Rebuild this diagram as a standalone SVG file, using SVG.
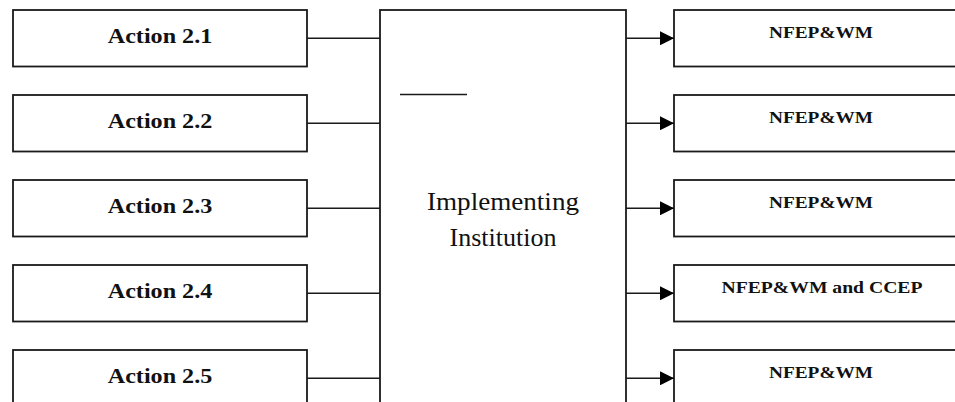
<svg xmlns="http://www.w3.org/2000/svg" width="955" height="402" viewBox="0 0 955 402">
<defs>
<style>
.box{fill:#fff;stroke:#1a1a1a;stroke-width:1.8}
.ln{fill:none;stroke:#1a1a1a;stroke-width:1.6}
.act{font-family:"Liberation Serif","Times New Roman",serif;font-weight:bold;font-size:22px;fill:#111;text-anchor:middle}
.out{font-family:"Liberation Serif","Times New Roman",serif;font-weight:bold;font-size:17.5px;fill:#111;text-anchor:middle}
.ctr{font-family:"Liberation Serif","Times New Roman",serif;font-size:25px;fill:#111;text-anchor:middle}
</style>
<marker id="arr" viewBox="0 0 14 14" refX="14" refY="7" markerWidth="14" markerHeight="14" markerUnits="userSpaceOnUse" orient="auto">
<path d="M0,0 L14,7 L0,14 Z" fill="#000"/>
</marker>
</defs>
<rect width="955" height="402" fill="#fff"/>

<g id="center">
<rect class="box" x="380" y="10" width="246" height="410"/>
<line class="ln" x1="400" y1="94.5" x2="467" y2="94.5"/>
<text class="ctr" x="503" y="210" textLength="152" lengthAdjust="spacingAndGlyphs">Implementing</text>
<text class="ctr" x="503" y="245.5" textLength="107" lengthAdjust="spacingAndGlyphs">Institution</text>
</g>

<g id="action21"><rect class="box" x="13" y="10" width="294" height="56.5"/><text class="act" x="160" y="42.7" textLength="104.5" lengthAdjust="spacingAndGlyphs">Action 2.1</text></g>
<g id="action22"><rect class="box" x="13" y="95" width="294" height="56.5"/><text class="act" x="160" y="127.7" textLength="104.5" lengthAdjust="spacingAndGlyphs">Action 2.2</text></g>
<g id="action23"><rect class="box" x="13" y="180" width="294" height="56.5"/><text class="act" x="160" y="212.7" textLength="104.5" lengthAdjust="spacingAndGlyphs">Action 2.3</text></g>
<g id="action24"><rect class="box" x="13" y="265" width="294" height="56.5"/><text class="act" x="160" y="297.7" textLength="104.5" lengthAdjust="spacingAndGlyphs">Action 2.4</text></g>
<g id="action25"><rect class="box" x="13" y="350" width="294" height="56.5"/><text class="act" x="160" y="382.7" textLength="104.5" lengthAdjust="spacingAndGlyphs">Action 2.5</text></g>

<g id="out1"><rect class="box" x="674" y="10" width="300" height="56.5"/><text class="out" x="821" y="37.7" textLength="104" lengthAdjust="spacingAndGlyphs">NFEP&amp;WM</text></g>
<g id="out2"><rect class="box" x="674" y="95" width="300" height="56.5"/><text class="out" x="821" y="122.7" textLength="104" lengthAdjust="spacingAndGlyphs">NFEP&amp;WM</text></g>
<g id="out3"><rect class="box" x="674" y="180" width="300" height="56.5"/><text class="out" x="821" y="207.7" textLength="104" lengthAdjust="spacingAndGlyphs">NFEP&amp;WM</text></g>
<g id="out4"><rect class="box" x="674" y="265" width="300" height="56.5"/><text class="out" x="822" y="292.7" textLength="201" lengthAdjust="spacingAndGlyphs">NFEP&amp;WM and CCEP</text></g>
<g id="out5"><rect class="box" x="674" y="350" width="300" height="56.5"/><text class="out" x="821" y="377.7" textLength="104" lengthAdjust="spacingAndGlyphs">NFEP&amp;WM</text></g>

<g id="connectors">
<line class="ln" x1="307" y1="38.3" x2="380" y2="38.3"/>
<line class="ln" x1="307" y1="123.3" x2="380" y2="123.3"/>
<line class="ln" x1="307" y1="208.3" x2="380" y2="208.3"/>
<line class="ln" x1="307" y1="293.3" x2="380" y2="293.3"/>
<line class="ln" x1="307" y1="378.3" x2="380" y2="378.3"/>
<line class="ln" x1="626" y1="38.3" x2="674" y2="38.3" marker-end="url(#arr)"/>
<line class="ln" x1="626" y1="123.3" x2="674" y2="123.3" marker-end="url(#arr)"/>
<line class="ln" x1="626" y1="208.3" x2="674" y2="208.3" marker-end="url(#arr)"/>
<line class="ln" x1="626" y1="293.3" x2="674" y2="293.3" marker-end="url(#arr)"/>
<line class="ln" x1="626" y1="378.3" x2="674" y2="378.3" marker-end="url(#arr)"/>
</g>
</svg>
